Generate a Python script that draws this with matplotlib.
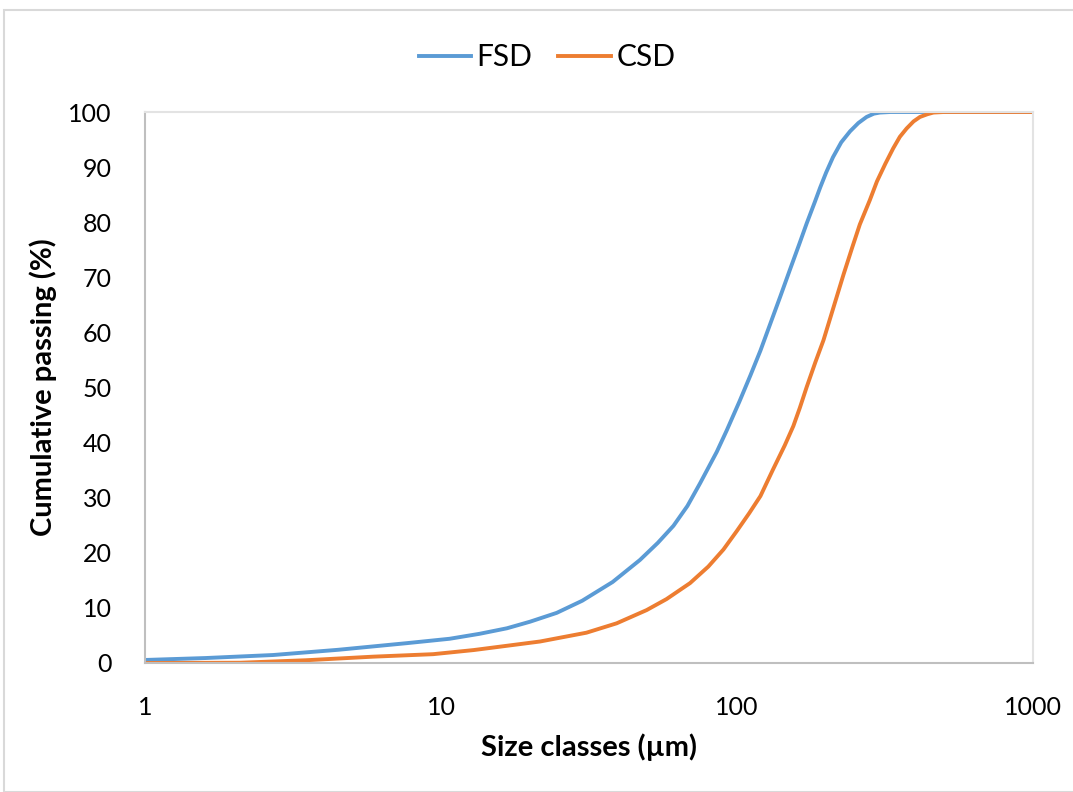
import matplotlib
matplotlib.use("Agg")
import matplotlib.pyplot as plt
from matplotlib.patches import Rectangle
from matplotlib.ticker import FixedLocator, NullLocator

plt.rcParams['font.family'] = ['Lato', 'DejaVu Sans']

# Data
fsd_size = [1, 1.6, 2.71, 4.5, 7.66, 10.7, 13.5, 16.7, 20, 24.6, 30, 38, 47, 54, 61, 68, 75, 85.4,
            92.3, 102, 111, 120, 129, 140, 151, 162, 172, 183, 191, 200, 211, 225, 241, 257, 274,
            290, 304, 330, 1000]
fsd_pass = [0.55, 0.9, 1.45, 2.4, 3.6, 4.4, 5.3, 6.3, 7.5, 9.1, 11.3, 14.7, 18.7, 21.8, 24.9,
            28.5, 32.6, 38.3, 42.2, 47.5, 52.2, 56.7, 61.3, 66.5, 71.4, 75.9, 79.8, 83.6, 86.3,
            89.0, 91.8, 94.5, 96.5, 98.0, 99.1, 99.7, 99.9, 100, 100]
csd_size = [1, 2.1, 3.5, 5.9, 9.4, 12.9, 21.6, 31, 39.2, 49.5, 57.8, 69.4, 80, 90, 100, 110, 120,
            132, 145, 155, 163, 172, 184, 196, 212, 229, 245, 260, 281, 297, 317, 337, 355, 374,
            395, 415, 440, 461, 500, 1000]
csd_pass = [0, 0.05, 0.5, 1.15, 1.6, 2.35, 3.9, 5.5, 7.2, 9.6, 11.6, 14.5, 17.5, 20.6, 24.0, 27.2,
            30.3, 35.0, 39.5, 43.0, 46.3, 50.1, 54.6, 58.6, 64.6, 70.5, 75.4, 79.6, 84.0, 87.4,
            90.6, 93.4, 95.5, 97.0, 98.3, 99.1, 99.6, 99.9, 100, 100]

x_ticks = [1, 10, 100, 1000]
x_tick_labels = ["1", "10", "100", "1000"]
y_ticks = list(range(0, 101, 10))

W, H = 1073, 792
fig = plt.figure(figsize=(W / 100, H / 100), dpi=100)
ax = fig.add_axes([145 / W, 1 - 663 / H, (1033 - 145) / W, (663 - 112) / H])

blue = "#5B9BD5"
orange = "#ED7D31"
ax.plot(fsd_size, fsd_pass, color=blue, lw=2.8, label="FSD", solid_joinstyle="round")
ax.plot(csd_size, csd_pass, color=orange, lw=2.8, label="CSD", solid_joinstyle="round")

ax.set_xscale("log")
ax.set_xlim(1, 1000)
ax.set_ylim(0, 100)
ax.xaxis.set_major_locator(FixedLocator(x_ticks))
ax.xaxis.set_minor_locator(NullLocator())
ax.set_xticklabels(x_tick_labels)
ax.set_yticks(y_ticks)
ax.tick_params(axis="both", length=0, labelsize=18)
ax.tick_params(axis="y", pad=24)
ax.tick_params(axis="x", pad=24)

for side in ["left", "bottom"]:
    ax.spines[side].set_color("#BFBFBF")
    ax.spines[side].set_linewidth(1.5)
for side in ["top", "right"]:
    ax.spines[side].set_color("#E3E3E3")
    ax.spines[side].set_linewidth(1.5)

ax.set_xlabel("Size classes (µm)", fontsize=21, fontweight="bold", labelpad=10)
ax.set_ylabel("Cumulative passing (%)", fontsize=21, fontweight="bold", labelpad=8)

leg = fig.legend(loc="center", bbox_to_anchor=(547 / W, 1 - 57 / H), ncol=2, frameon=False,
                 fontsize=21.5, handlelength=1.77, handletextpad=0.17, columnspacing=0.87)

fig.patches.append(Rectangle((4 / W, 0), 1.0, 1 - 10 / H, transform=fig.transFigure,
                             fill=False, edgecolor="#D9D9D9", lw=1.5))

fig.savefig("out.png", dpi=100)
